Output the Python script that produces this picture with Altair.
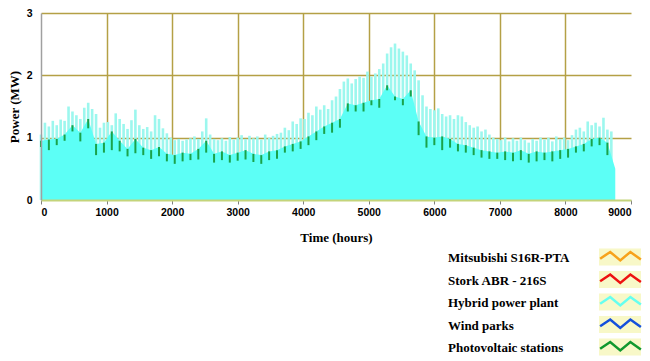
import altair as alt
import pandas as pd

# ---- data ----
hours_top = list(range(0, 8760, 60))
top_mw = [
    1.05, 1.24, 1.18, 1.27, 1.20, 1.29, 1.27, 1.50, 1.42, 1.36,
    1.30, 1.48, 1.56, 1.46, 1.38, 1.16, 1.24, 1.25, 1.20, 1.39,
    1.30, 1.22, 1.14, 1.28, 1.45, 1.20, 1.14, 1.17, 1.10, 1.36,
    1.30, 1.15, 1.07, 1.00, 0.96, 0.98, 0.95, 0.97, 0.99, 1.02,
    0.98, 1.10, 1.31, 1.05, 0.98, 0.96, 0.99, 0.95, 1.01, 0.97,
    1.00, 1.04, 0.98, 1.03, 0.99, 1.02, 0.97, 1.05, 1.00, 1.03,
    1.06, 1.08, 1.16, 1.12, 1.26, 1.22, 1.31, 1.30, 1.40, 1.36,
    1.50, 1.45, 1.52, 1.46, 1.60, 1.66, 1.78, 1.90, 1.95, 1.87,
    1.94, 1.98, 1.96, 2.06, 1.98, 2.03, 2.10, 2.19, 2.35, 2.45,
    2.51, 2.43, 2.38, 2.32, 2.19, 2.08, 1.92, 1.68, 1.50, 1.46,
    1.44, 1.47, 1.38, 1.34, 1.36, 1.30, 1.36, 1.34, 1.25, 1.20,
    1.16, 1.18, 1.10, 1.13, 1.05, 1.00, 0.98, 0.96, 1.00, 0.94,
    0.99, 0.95, 1.00, 0.96, 0.92, 0.98, 0.95, 1.00, 0.97, 1.00,
    0.94, 1.02, 0.98, 1.00, 0.96, 1.04, 1.13, 1.16, 1.10, 1.26,
    1.20, 1.24, 1.18, 1.32, 1.13, 1.10,
]
hours_low = list(range(0, 8761, 120))
floor_mw = [
    0.95, 0.97, 0.98, 1.05, 1.20, 1.08, 1.30, 0.90, 0.92, 1.10,
    0.95, 0.82, 0.98, 0.84, 0.80, 0.85, 0.74, 0.72, 0.76, 0.74,
    0.82, 0.95, 0.74, 0.78, 0.72, 0.76, 0.80, 0.74, 0.72, 0.78,
    0.80, 0.86, 0.90, 0.94, 1.02, 1.10, 1.18, 1.24, 1.30, 1.55,
    1.52, 1.56, 1.60, 1.62, 1.84, 1.66, 1.62, 1.76, 1.26, 1.02,
    1.00, 1.02, 0.98, 0.90, 0.88, 0.84, 0.80, 0.78, 0.76, 0.78,
    0.76, 0.80, 0.74, 0.78, 0.76, 0.78, 0.80, 0.82, 0.86, 0.90,
    0.98, 1.00, 0.92, 0.50,
]
pv_low_mw = [
    0.85, 0.80, 0.88, 0.95, 1.10, 0.94, 1.15, 0.72, 0.76, 0.80,
    0.78, 0.70, 0.75, 0.72, 0.66, 0.70, 0.62, 0.58, 0.62, 0.64,
    0.65, 0.76, 0.60, 0.64, 0.60, 0.63, 0.65, 0.61, 0.58, 0.64,
    0.66, 0.76, 0.78, 0.82, 0.88, 0.96, 1.06, 1.08, 1.16, 1.42,
    1.42, 1.42, 1.52, 1.48, 1.76, 1.60, 1.52, 1.66, 1.04, 0.84,
    0.88, 0.80, 0.84, 0.78, 0.76, 0.72, 0.68, 0.66, 0.66, 0.64,
    0.62, 0.64, 0.60, 0.62, 0.64, 0.62, 0.66, 0.68, 0.76, 0.78,
    0.86, 0.88, 0.72, 0.50,
]
series = ["Mitsubishi S16R-PTA", "Stork ABR - 216S", "Hybrid power plant",
          "Wind parks", "Photovoltaic stations"]
series_colors = ["#F7A21B", "#EE1111", "#66FFF0", "#1450DC", "#10982E"]
x_ticks = [0, 1000, 2000, 3000, 4000, 5000, 6000, 7000, 8000, 9000]
x_grid = [1000, 2000, 3000, 4000, 5000, 6000, 7000, 8000]
y_ticks = [0, 1, 2, 3]
y_grid = [1, 2, 3]

assert len(top_mw) == len(hours_top)
assert len(floor_mw) == len(hours_low) == len(pv_low_mw)

BG = "#F9F9CB"
GRID = "#B4A046"
CYAN = "#5CFFF6"
LIGHT = "#9CF7EE"
GREEN = "#1AA34A"
BOX_FILL = "#F8F8C8"
BOX_STROKE = "#9C9A8A"
BOX_PATH = "M-1,-0.4H1V0.4H-1Z"
ZIG_PATH = "M-0.97,0.08L-0.49,-0.24L-0.01,0.16L0.47,-0.24L0.97,0.12"

top_df = pd.DataFrame({"hour": hours_top, "top": top_mw})
low_df = pd.DataFrame({"hour": hours_low, "floor": floor_mw, "pv": pv_low_mw})
# separate keys so that the three legend layers are not merged into one
box_keys = [s + " (box)" for s in series]
zig_keys = [s + " (line)" for s in series]
leg_df = pd.DataFrame({"box_key": box_keys, "zig_key": zig_keys, "label_key": series})

x_scale = alt.Scale(domain=[0, 9000], nice=False, zero=False)
y_scale = alt.Scale(domain=[0, 3], nice=False)

x_axis = alt.Axis(
    values=x_ticks, format="d", title="Time (hours)", grid=False, zindex=1,
    labelFont="Liberation Sans", labelFontWeight="bold", labelFontSize=10.5,
    labelColor="black", tickColor="#808080", tickSize=4, tickWidth=1,
    labelPadding=3, domainColor="#C4D47A", domainWidth=2,
    titleFont="Liberation Serif", titleFontSize=13,
    titleFontWeight="bold", titleColor="black", titlePadding=14,
)
y_axis = alt.Axis(
    values=y_ticks, format="d", title="Power (MW)", ticks=False, grid=False, zindex=1,
    labelFont="Liberation Sans", labelFontWeight="bold", labelFontSize=10.5,
    labelColor="black", labelPadding=9, domainColor="#A0A0A0", domainWidth=1.5,
    titleFont="Liberation Serif", titleFontSize=13,
    titleFontWeight="bold", titleColor="black", titlePadding=5,
)
x_grid_axis = alt.Axis(values=x_grid, grid=True, gridColor=GRID, gridWidth=1.5,
                       labels=False, ticks=False, domain=False, title=None, zindex=0)
y_grid_axis = alt.Axis(values=y_grid, grid=True, gridColor=GRID, gridWidth=1.5,
                       labels=False, ticks=False, domain=False, title=None, zindex=0)

bars = alt.Chart(top_df).mark_rule(color=LIGHT, strokeWidth=2.6).encode(
    x=alt.X("hour:Q", scale=x_scale, axis=x_axis),
    y=alt.Y("top:Q", scale=y_scale, axis=y_axis),
    y2=alt.datum(0),
)
area = alt.Chart(low_df).mark_area(color=CYAN, interpolate="linear").encode(
    x=alt.X("hour:Q", scale=x_scale, axis=x_grid_axis),
    y=alt.Y("floor:Q", scale=y_scale, axis=y_grid_axis),
)
green = alt.Chart(low_df).mark_rule(color=GREEN, strokeWidth=2).encode(
    x=alt.X("hour:Q", scale=x_scale, axis=None),
    y=alt.Y("pv:Q", scale=y_scale, axis=None),
    y2="floor:Q",
)

common_leg = dict(orient="none", title=None, clipHeight=18, rowPadding=4.5)

box_layer = alt.Chart(leg_df).transform_filter("false").mark_point(
    filled=True, fill=BOX_FILL, stroke=BOX_STROKE, strokeWidth=1.4, opacity=1
).encode(
    shape=alt.Shape("box_key:N", scale=alt.Scale(domain=box_keys, range=[BOX_PATH] * 5),
                    legend=alt.Legend(legendX=557, legendY=235, labelExpr="''",
                                      symbolSize=1764, symbolFillColor=BOX_FILL,
                                      symbolStrokeColor=BOX_STROKE, symbolStrokeWidth=1.4,
                                      **common_leg))
)
zig_layer = alt.Chart(leg_df).transform_filter("false").mark_point(
    filled=False, strokeWidth=2.5, shape=ZIG_PATH, opacity=1
).encode(
    stroke=alt.Stroke("zig_key:N", scale=alt.Scale(domain=zig_keys, range=series_colors),
                      legend=alt.Legend(legendX=557, legendY=235, labelExpr="''",
                                        symbolType=ZIG_PATH, symbolSize=1764,
                                        symbolStrokeWidth=2.5, symbolFillColor="transparent",
                                        **common_leg))
)
label_layer = alt.Chart(leg_df).transform_filter("false").mark_point(
    filled=True, opacity=1
).encode(
    fill=alt.Fill("label_key:N", scale=alt.Scale(domain=series, range=["transparent"] * 5),
                  legend=alt.Legend(legendX=390, legendY=236, symbolSize=1,
                                    symbolStrokeWidth=0,
                                    labelFont="Liberation Serif", labelFontSize=13,
                                    labelFontWeight="bold", labelColor="black",
                                    labelLimit=0, labelOffset=4, **common_leg))
)

chart = alt.layer(bars, area, green, box_layer, zig_layer, label_layer).properties(
    width=590, height=187,
    padding={"left": 33, "top": 5, "right": 11, "bottom": 158},
    autosize=alt.AutoSizeParams(type="none"),
).resolve_axis(x="independent", y="independent").configure_view(
    fill=BG, stroke="transparent")

chart.save("out.html", embed_options={"renderer": "svg", "actions": False})
